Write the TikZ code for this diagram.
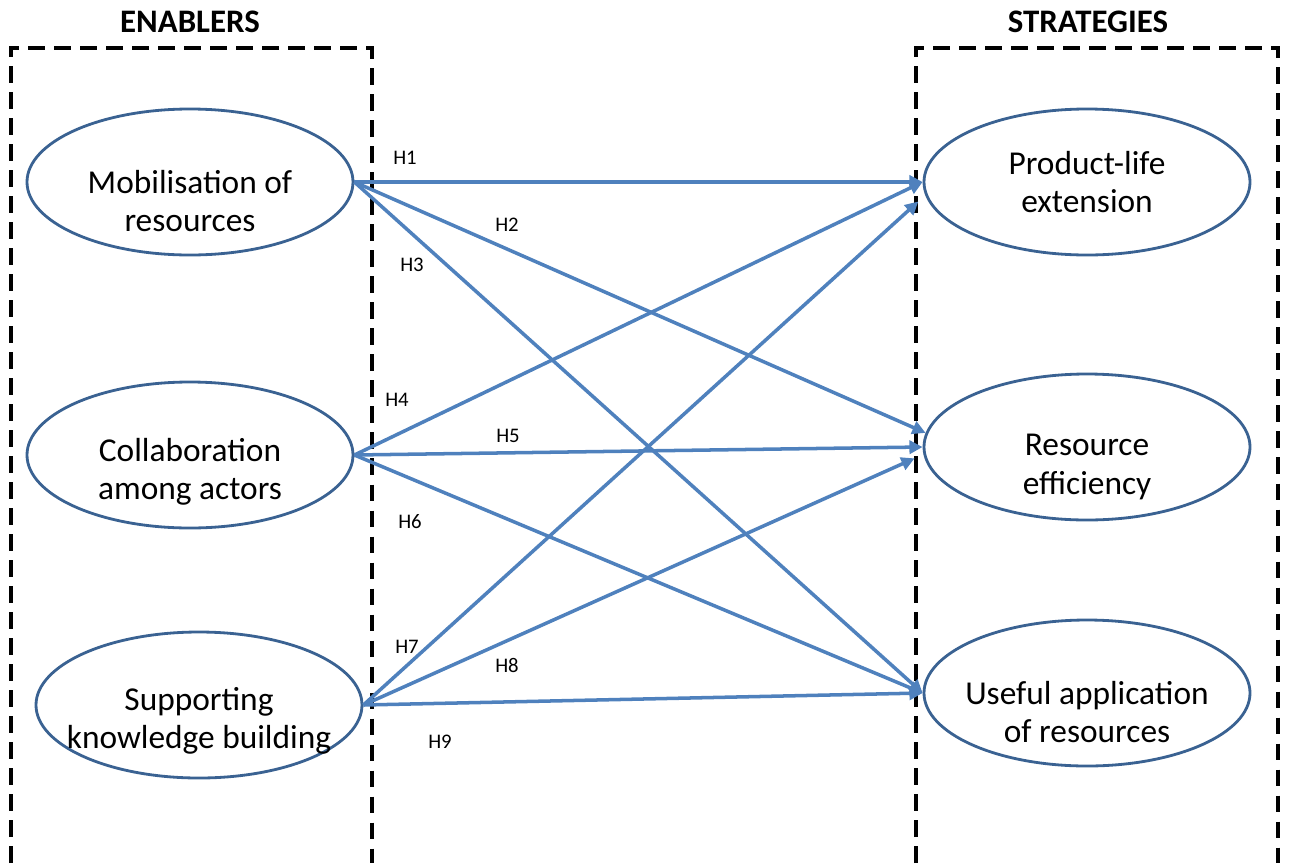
\documentclass[tikz,border=0pt]{standalone}
\usepackage{fontspec}
\setmainfont{Carlito}
\usetikzlibrary{shapes.geometric,arrows.meta}
\definecolor{lnkblue}{RGB}{79,129,189}
\definecolor{ellblue}{RGB}{58,98,146}

\begin{document}
\begin{tikzpicture}[
  ell/.style={draw=ellblue,line width=1.6pt,ellipse,
              minimum width=6.52cm,minimum height=2.92cm,inner sep=0pt},
  txt/.style={font=\fontsize{19}{21.9}\selectfont,align=center,text=black},
  lnk/.style={-{Triangle[length=7.5pt,width=7.5pt]},line width=2pt,color=lnkblue},
  hl/.style={font=\fontsize{11.8}{14}\selectfont,inner sep=1pt},
  ttl/.style={font=\fontsize{18.7}{22}\selectfont\bfseries},
  grp/.style={draw=black,line width=2.6pt,dash pattern=on 9.6pt off 5.2pt}
]
\useasboundingbox (0,0) rectangle (25.78,-17.26);

% group boxes, open at the bottom
\draw[grp] (0.22,-17.26) |- (7.44,-0.96) -- (7.44,-17.26);
\draw[grp] (18.32,-17.26) |- (25.56,-0.96) -- (25.56,-17.26);
\node[ttl] (entitle) at (3.8,-0.44)   {ENABLERS};
\node[ttl] (sttitle) at (21.76,-0.44) {STRATEGIES};

% enablers
\node[ell,label={[txt,yshift=-0.38cm]center:Mobilisation of\\resources}]
      (mob) at (3.8,-3.64) {};
\node[ell,label={[txt,yshift=-0.34cm]center:Collaboration\\among actors}]
      (collab) at (3.8,-9.1) {};
\node[ell,label={[txt,yshift=-0.32cm]center:Supporting\\knowledge building}]
      (support) at (3.98,-14.1) {};

% strategies
\node[ell,label={[txt]center:Product-life\\extension}]
      (ple) at (21.74,-3.64) {};
\node[ell,label={[txt,yshift=-0.4cm]center:Resource\\efficiency}]
      (reseff) at (21.74,-8.94) {};
\node[ell,label={[txt,yshift=-0.38cm]center:Useful application\\of resources}]
      (useful) at (21.74,-13.86) {};

% hypotheses
\draw[lnk] (mob.east) -- (ple.west);
\draw[lnk] (mob.east) -- (reseff.175);
\draw[lnk] (mob.east) -- (useful.west);
\draw[lnk] (collab.east) -- (ple.west);
\draw[lnk] (collab.east) -- (reseff.west);
\draw[lnk] (collab.east) -- (useful.west);
\draw[lnk] (support.east) -- ([xshift=-0.2cm]ple.187);
\draw[lnk] (support.east) -- ([xshift=-0.2cm]reseff.184);
\draw[lnk] (support.east) -- (useful.west);

\node[hl] (h1) at (8.1,-3.16)   {H1};
\node[hl] (h2) at (10.14,-4.5)  {H2};
\node[hl] (h3) at (8.24,-5.3)   {H3};
\node[hl] (h4) at (7.94,-8.0)   {H4};
\node[hl] (h5) at (10.16,-8.72) {H5};
\node[hl] (h6) at (8.2,-10.44)  {H6};
\node[hl] (h7) at (8.14,-12.94) {H7};
\node[hl] (h8) at (10.14,-13.3) {H8};
\node[hl] (h9) at (8.8,-14.84)  {H9};

\end{tikzpicture}
\end{document}
